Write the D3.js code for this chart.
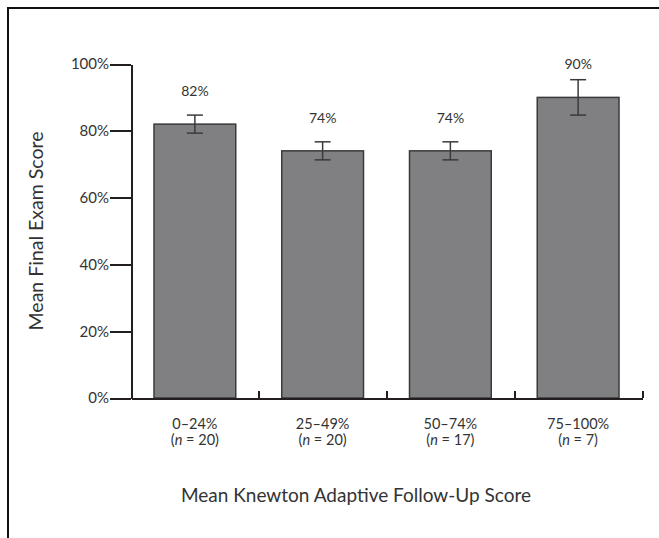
<!DOCTYPE html>
<html lang="en">
<head>
<meta charset="utf-8">
<script src="https://cdn.jsdelivr.net/npm/d3@7/dist/d3.min.js"></script>
<style>
	body { margin: 0; background: #fff; }
	svg { font-family: Lato, "Open Sans", sans-serif; }
	.axis path, .axis line { stroke: #231f20; stroke-width: 2; shape-rendering: crispEdges; }
	.axis text { fill: #333; font-size: 15px; font-family: Lato, "Open Sans", sans-serif; }
</style>
</head>
<body>
<svg id="chart" width="659" height="538"></svg>
<script>
	// data
	var ranges  = ["0\u201324%", "25\u201349%", "50\u201374%", "75\u2013100%"];
	var counts  = [20, 20, 17, 7];
	var means   = [82, 74, 74, 90];
	var errors  = [2.7, 2.7, 2.7, 5.3];
	var yTicks  = [0, 20, 40, 60, 80, 100];

	var svg = d3.select("#chart");
	var margin = {top: 64, left: 131, right: 17, bottom: 140};
	var width = 659 - margin.left - margin.right;
	var height = 538 - margin.top - margin.bottom;

	// frame (top and left edges show in the reference)
	svg.append("path")
		.attr("d", "M8,538V8H659")
		.attr("fill", "none")
		.attr("stroke", "#111")
		.attr("stroke-width", 2);

	var g = svg.append("g")
		.attr("transform", "translate(" + margin.left + "," + margin.top + ")");

	var x = d3.scaleBand().domain(ranges).range([0, width]).paddingInner(0.36).paddingOuter(0.18);
	var xEdge = d3.scaleLinear().domain([0, ranges.length]).range([0, width]);
	var y = d3.scaleLinear().domain([0, 100]).range([height, 0]);

	// bars
	g.selectAll("rect.bar")
		.data(means)
		.enter().append("rect")
		.attr("class", "bar")
		.attr("x", function(d, i) { return x(ranges[i]); })
		.attr("y", function(d) { return y(d); })
		.attr("width", x.bandwidth())
		.attr("height", function(d) { return height - y(d); })
		.attr("fill", "#808083")
		.attr("stroke", "#3a3a3c")
		.attr("stroke-width", 1.5);

	// error bars
	var eb = g.append("g").attr("stroke", "#3a3a3c").attr("stroke-width", 1.5);
	means.forEach(function(m, i) {
		var cx = x(ranges[i]) + x.bandwidth() / 2;
		eb.append("line").attr("x1", cx).attr("x2", cx).attr("y1", y(m + errors[i])).attr("y2", y(m - errors[i]));
		eb.append("line").attr("x1", cx - 8).attr("x2", cx + 8).attr("y1", y(m + errors[i])).attr("y2", y(m + errors[i]));
		eb.append("line").attr("x1", cx - 8).attr("x2", cx + 8).attr("y1", y(m - errors[i])).attr("y2", y(m - errors[i]));
	});

	// value labels
	g.selectAll("text.val")
		.data(means)
		.enter().append("text")
		.attr("class", "val")
		.attr("x", function(d, i) { return x(ranges[i]) + x.bandwidth() / 2; })
		.attr("y", function(d) { return y(d) - 28; })
		.attr("text-anchor", "middle")
		.attr("font-size", 14)
		.attr("fill", "#333")
		.text(function(d) { return d + "%"; });

	// x axis: ticks pointing up at band edges, no labels
	g.append("g")
		.attr("class", "axis")
		.attr("transform", "translate(0," + height + ")")
		.call(d3.axisBottom(xEdge).tickValues(d3.range(1, ranges.length + 1)).tickSize(-7).tickSizeOuter(0).tickFormat(""));

	// y axis
	g.append("g")
		.attr("class", "axis")
		.call(d3.axisLeft(y).tickValues(yTicks).tickSize(21).tickSizeOuter(0).tickPadding(1)
			.tickFormat(function(d) { return d + "%"; }));

	// category labels
	var cat = g.append("g").attr("font-size", 14.5).attr("fill", "#333").attr("text-anchor", "middle");
	ranges.forEach(function(r, i) {
		var cx = x(r) + x.bandwidth() / 2;
		cat.append("text").attr("x", cx).attr("y", height + 31).text(r);
		var t = cat.append("text").attr("x", cx).attr("y", height + 47);
		t.append("tspan").text("(");
		t.append("tspan").attr("font-style", "italic").text("n");
		t.append("tspan").text(" = " + counts[i] + ")");
	});

	// axis titles
	svg.append("text")
		.attr("x", 356)
		.attr("y", 502)
		.attr("text-anchor", "middle")
		.attr("font-size", 19)
		.attr("fill", "#333")
		.text("Mean Knewton Adaptive Follow-Up Score");

	svg.append("text")
		.attr("transform", "translate(43," + (margin.top + height / 2) + ") rotate(-90)")
		.attr("text-anchor", "middle")
		.attr("font-size", 19.5)
		.attr("fill", "#333")
		.text("Mean Final Exam Score");
</script>
</body>
</html>
